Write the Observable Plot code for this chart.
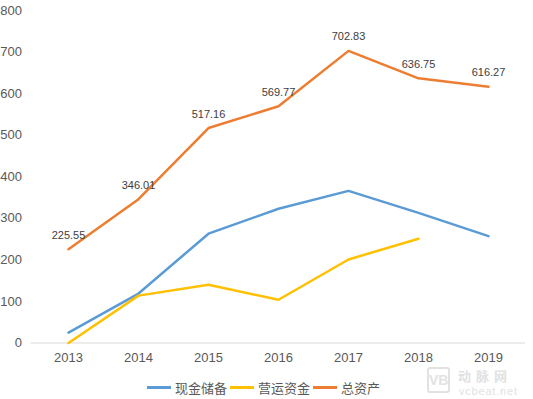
<!DOCTYPE html>
<html><head><meta charset="utf-8">
<script src="https://cdn.jsdelivr.net/npm/d3@7"></script>
<script src="https://cdn.jsdelivr.net/npm/@observablehq/plot@0.6"></script>
<style>
body{margin:0;background:#fff;font-family:"Liberation Sans","Noto Sans CJK SC",sans-serif;position:relative;width:533px;height:399px;overflow:hidden}
#legend{display:flex;justify-content:center;align-items:center;height:29px;font-size:13px;color:#595959;font-family:"Noto Sans CJK SC","Liberation Sans",sans-serif;padding-right:6px;margin-top:3px;position:relative;z-index:2}
.item{display:flex;align-items:center;margin:0 1.5px}
.sw{width:24px;height:3px;margin-right:4px}
#wm{position:absolute;left:427px;top:366px;color:#e2e2e2;z-index:1;pointer-events:none}
#wm .logo{position:absolute;left:0;top:1px;width:23px;height:26px;border:2px solid #e2e2e2;border-radius:3px;font:bold 14px "Liberation Sans",sans-serif;line-height:22px;text-align:center;box-sizing:border-box}
#wm .cn{position:absolute;left:31px;top:0;font:bold 13px "Noto Sans CJK SC",sans-serif;letter-spacing:5px;white-space:nowrap;line-height:19px}
#wm .en{position:absolute;left:32px;top:19px;font:11px "Liberation Sans",sans-serif;letter-spacing:0.8px;white-space:nowrap;line-height:12px}
</style></head><body>
<div id="chart"></div>
<div id="legend"></div>
<div id="wm"><div class="logo">VB</div><div class="cn">动脉网</div><div class="en">vcbeat.net</div></div>
<script>
const years = ["2013","2014","2015","2016","2017","2018","2019"];
const cashReserve = [25,119,263,323,366,313,257];
const workingCapital = [0,114,140,104,201,251,null];
const totalAssets = [225.55,346.01,517.16,569.77,702.83,636.75,616.27];
const seriesNames = ["现金储备","营运资金","总资产"];
const colors = ["#5B9BD5","#FFC000","#ED7D31"];
const yTicks = [0,100,200,300,400,500,600,700,800];

const rows = [];
[cashReserve, workingCapital, totalAssets].forEach((arr, si) => {
  arr.forEach((v, i) => { if (v != null) rows.push({year: years[i], value: v, series: seriesNames[si]}); });
});
const assetRows = rows.filter(d => d.series === "总资产");

const chart = Plot.plot({
  width: 533, height: 370,
  marginLeft: 30.5, marginRight: 8, marginTop: 10, marginBottom: 27.5,
  style: {fontFamily: "Liberation Sans, sans-serif", fontSize: "13px", color: "#595959", background: "transparent"},
  x: {type: "point", domain: years, padding: 0.5, label: null, tickSize: 0, tickPadding: 10},
  y: {domain: [0, 800], ticks: yTicks, label: null, tickSize: 0, tickPadding: 9},
  color: {domain: seriesNames, range: colors},
  marks: [
    Plot.ruleY([0], {stroke: "#d9d9d9", strokeWidth: 1}),
    Plot.line(rows, {x: "year", y: "value", z: "series", stroke: "series", strokeWidth: 2.5, strokeLinejoin: "round", strokeLinecap: "round"}),
    Plot.text(assetRows, {x: "year", y: "value", text: d => d.value.toFixed(2), dy: -14, fill: "#404040", fontSize: 11})
  ]
});
chart.style.position = "relative";
chart.style.zIndex = "2";
chart.querySelectorAll('[aria-label="y-axis tick label"] text, [aria-label="x-axis tick label"] text').forEach(t => t.setAttribute("fill", "#595959"));
document.getElementById("chart").appendChild(chart);

const lg = document.getElementById("legend");
seriesNames.forEach((n, i) => {
  const it = document.createElement("div"); it.className = "item";
  const sw = document.createElement("div"); sw.className = "sw"; sw.style.background = colors[i];
  const tx = document.createElement("span"); tx.textContent = n;
  it.appendChild(sw); it.appendChild(tx); lg.appendChild(it);
});
</script>
</body></html>
